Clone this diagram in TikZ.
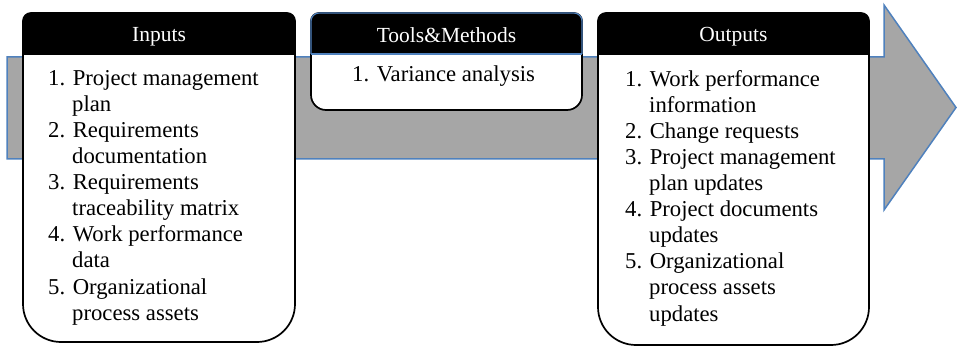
\documentclass[tikz,border=0pt]{standalone}
\usepackage{fontspec}
\setmainfont{Liberation Serif}
\usepackage{tikz}
\usetikzlibrary{positioning,calc}
\definecolor{cArrow}{HTML}{A6A6A6}
\definecolor{cArrowE}{HTML}{4F81BD}
\tikzset{
  flowarrow/.style={fill=cArrow, draw=cArrowE, line width=1.5pt, line join=miter},
  frame/.style    ={draw=black, line width=1.7pt},
  hdr/.style      ={fill=black},
  hdredge/.style  ={draw=cArrowE, line width=1.2pt},
  hdrtxt/.style   ={text=white, anchor=base, inner sep=0pt,
                    font=\fontsize{21.5}{24}\selectfont},
  items/.style    ={align=left, anchor=north west, inner sep=0pt,
                    font=\fontsize{22.7}{26.1}\selectfont},
  % small round top corners, large round bottom corners
  phaseframe/.style n args={4}{insert path={
      (#1,21) arc[start angle=180, end angle=270, radius=8]
      -- ({#2-8},13) arc[start angle=270, end angle=360, radius=8]
      -- (#2,{#3-#4}) arc[start angle=0, end angle=90, radius=#4]
      -- ({#1+#4},#3) arc[start angle=90, end angle=180, radius=#4]
      -- cycle}},
}
\newcommand{\ind}{\hspace*{24pt}}
% white box, black header band, black outline
\newcommand{\phasebox}[5]{%
  \fill[white, phaseframe={#1}{#2}{#3}{#4}];
  \begin{scope}
    \clip[phaseframe={#1}{#2}{#3}{#4}];
    \fill[hdr] (#1,13) rectangle (#2,#5);
  \end{scope}
  \draw[frame, phaseframe={#1}{#2}{#3}{#4}];}

\begin{document}
\begin{tikzpicture}[x=1pt, y=-1pt]
  \useasboundingbox (0,0) rectangle (958,347);

  % ---- process arrow ----
  \draw[flowarrow] (7,57) -- (884,57) -- (884,5) -- (956,107.5)
        -- (884,210) -- (884,159) -- (7,159) -- cycle;

  % ---- boxes ----
  \phasebox{23}{295}{342}{38}{55}
  \phasebox{311}{582}{110}{15}{54}
  \phasebox{598}{869}{345}{38}{55}
  \draw[hdredge, rounded corners=8pt]
    (311,54) -- (311,13) -- (582,13) -- (582,54);
  \draw[hdredge] (311,54) -- (582,54);

  % ---- headers ----
  \node[hdrtxt] (inputs)  at (159,42) {Inputs};
  \node[hdrtxt] (tools)   at (446.5,42.5) {Tools\&Methods};
  \node[hdrtxt] (outputs) at (733.5,42) {Outputs};

  % ---- item lists ----
  \node[items] (inlist) at (48,70)
    {1. Project management\\\ind plan\\
     2. Requirements\\\ind documentation\\
     3. Requirements\\\ind traceability matrix\\
     4. Work performance\\\ind data\\
     5. Organizational\\\ind process assets};
  \node[items, anchor=base west] (toollist) at (352,82) {1. Variance analysis};
  \node[items] (outlist) at (625,70)
    {1. Work performance\\\ind information\\
     2. Change requests\\
     3. Project management\\\ind plan updates\\
     4. Project documents\\\ind updates\\
     5. Organizational\\\ind process assets\\\ind updates};

\end{tikzpicture}
\end{document}
